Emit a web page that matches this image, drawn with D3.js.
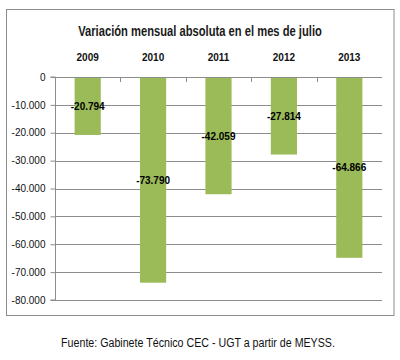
<!DOCTYPE html>
<html><head><meta charset="utf-8">
<script src="https://cdn.jsdelivr.net/npm/d3@7"></script>
<style>body{margin:0;background:#fff}svg{display:block}</style>
</head><body>
<svg id="c" width="400" height="360"></svg>
<script>
const categories = ["2009","2010","2011","2012","2013"];
const values = [-20794, -73790, -42059, -27814, -64866];
const yTicks = [0,-10000,-20000,-30000,-40000,-50000,-60000,-70000,-80000];
const title = "Variación mensual absoluta en el mes de julio";
const source = "Fuente: Gabinete Técnico CEC - UGT a partir de MEYSS.";

(function(){
const svg = d3.select("#c");
const pL = 55, pR = 382, pT = 77, pB = 300;
const x = d3.scaleBand().domain(categories).range([pL, pR]).paddingInner(0.6).paddingOuter(0.3);
const xb = d3.scaleBand().domain(categories).range([pL, pR]);
const y = d3.scaleLinear().domain([0, -80000]).range([pT, pB]);
const fmt = v => d3.formatLocale({decimal:",", thousands:".", grouping:[3], currency:["",""], minus:"-"}).format(",")(v);
const font = "'Liberation Sans', Arial, sans-serif";

function fitText(sel, cx, cy, w){
  const n = sel.node().getComputedTextLength();
  const k = Math.min(1, w / n);
  sel.attr("x",0).attr("y",0).attr("transform",`translate(${cx},${cy}) scale(${k},1)`);
}

// outer border
svg.append("rect").attr("x",6.5).attr("y",9.5).attr("width",387.5).attr("height",306)
  .attr("fill","none").attr("stroke","#8c8c8c").attr("stroke-width",1);

// title
const t = svg.append("text").attr("text-anchor","middle")
  .attr("font-family",font).attr("font-size",15).attr("font-weight","bold").attr("fill","#1a1a1a").text(title);
fitText(t, 200, 36, 244);

// gridlines
svg.append("g").selectAll("line").data(yTicks.slice(1)).join("line")
  .attr("x1",pL).attr("x2",pR).attr("y1",d=>Math.round(y(d))+0.5).attr("y2",d=>Math.round(y(d))+0.5)
  .attr("stroke","#8c8c8c").attr("stroke-width",1);

// y axis
const ya = svg.append("g").attr("transform",`translate(${pL+0.5},0)`)
  .call(d3.axisLeft(y).tickValues(yTicks).tickFormat(fmt).tickSize(5).tickPadding(5));
ya.select(".domain").attr("stroke","#8c8c8c").attr("d",`M-5,${pT}H0V${pB}H-5`);
ya.selectAll(".tick line").attr("stroke","#8c8c8c");
ya.selectAll(".tick text").attr("font-family",font).attr("font-size",10).attr("fill","#111");

// bars
svg.append("g").selectAll("rect").data(values).join("rect")
  .attr("x",(d,i)=>x(categories[i])).attr("width",x.bandwidth())
  .attr("y",y(0)).attr("height",d=>y(d)-y(0)).attr("fill","#9bbb59");

// top category axis (at zero)
const xa = svg.append("g").attr("transform",`translate(0,${Math.round(y(0))+0.5})`)
  .call(d3.axisBottom(xb).tickSize(0).tickFormat(""));
xa.select(".domain").attr("stroke","#8c8c8c").attr("d",`M${pL},0H${pR}`);
svg.append("g").selectAll("line").data(categories.slice(1)).join("line")
  .attr("x1",d=>Math.round(xb(d))+0.5).attr("x2",d=>Math.round(xb(d))+0.5)
  .attr("y1",y(0)).attr("y2",y(0)+5).attr("stroke","#8c8c8c");
svg.append("g").selectAll("text").data(categories).join("text")
  .attr("x",d=>xb(d)+xb.bandwidth()/2).attr("y",61).attr("text-anchor","middle")
  .attr("font-family",font).attr("font-size",10).attr("font-weight","bold").attr("fill","#111").text(d=>d);

// data labels
svg.append("g").selectAll("text").data(values).join("text")
  .attr("x",(d,i)=>x(categories[i])+x.bandwidth()/2).attr("y",d=>y(d/2)+4).attr("text-anchor","middle")
  .attr("font-family",font).attr("font-size",10).attr("font-weight","bold").attr("fill","#000").text(d=>fmt(d));

// source
const s = svg.append("text").attr("text-anchor","middle")
  .attr("font-family",font).attr("font-size",12).attr("fill","#111").text(source);
fitText(s, 198, 347, 274);
})();
</script>
</body></html>
